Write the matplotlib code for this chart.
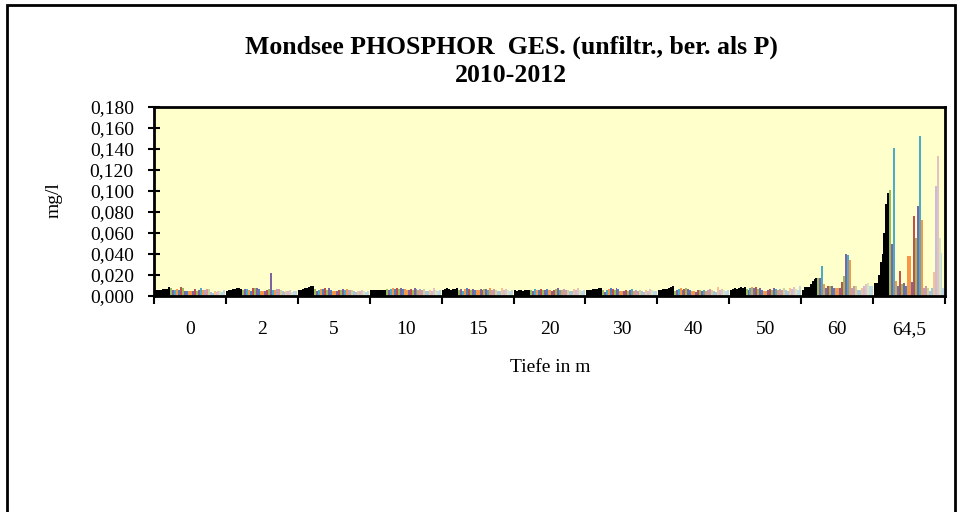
import matplotlib
matplotlib.use("Agg")
import matplotlib.pyplot as plt
from matplotlib.patches import Rectangle
import numpy as np

plt.rcParams["font.family"] = ["Liberation Serif", "DejaVu Serif"]

depths = ["0", "2", "5", "10", "15", "20", "30", "40", "50", "60", "64,5"]

# series colours (36 sampling dates): first ones black, then Excel-like palette
BLACK = "#000000"
GREEN, PURPLE, TEAL, ORANGE, BLUE, RED = "#9BBB59", "#8064A2", "#4BACC6", "#F79646", "#4F81BD", "#C0504D"
series_colors = [BLACK] * 8 + [
    GREEN, PURPLE, TEAL, ORANGE, BLUE, RED,
    GREEN, PURPLE, BLUE, ORANGE, ORANGE, PURPLE,
    RED, GREEN, PURPLE, TEAL, ORANGE,
    "#B3A2C7", "#D99694", "#C3D69B", "#B9B8D6", "#93CDDD", "#FAC090",
    "#C6BCDB", "#E6C1C0", "#D7E4BD", "#B7DEE8", "#C5D3E2",
]

# total phosphorus, mg/l, one value per sampling date
p_0 = [0.006, 0.006, 0.006, 0.006, 0.007, 0.007, 0.007, 0.009,
       0.008, 0.006, 0.006, 0.007, 0.006, 0.009, 0.008, 0.005, 0.005, 0.005, 0.005, 0.005,
       0.007, 0.005, 0.006, 0.008, 0.006, 0.006, 0.007, 0.007, 0.004, 0.003, 0.005, 0.004,
       0.005, 0.005, 0.004, 0.006]
p_2 = [0.005, 0.006, 0.006, 0.007, 0.007, 0.008, 0.008, 0.007,
       0.006, 0.007, 0.007, 0.006, 0.005, 0.008, 0.008, 0.008, 0.007, 0.005, 0.005, 0.005,
       0.006, 0.007, 0.022, 0.006, 0.006, 0.007, 0.007, 0.006, 0.005, 0.004, 0.005, 0.005,
       0.006, 0.004, 0.005, 0.005]
p_5 = [0.006, 0.006, 0.007, 0.008, 0.008, 0.009, 0.010, 0.010,
       0.007, 0.005, 0.006, 0.007, 0.007, 0.008, 0.006, 0.008, 0.006, 0.005, 0.005, 0.005,
       0.006, 0.006, 0.007, 0.006, 0.007, 0.006, 0.006, 0.006, 0.005, 0.004, 0.005, 0.005,
       0.006, 0.005, 0.004, 0.005]
p_10 = [0.006, 0.006, 0.006, 0.006, 0.006, 0.006, 0.006, 0.006,
        0.007, 0.006, 0.007, 0.008, 0.007, 0.008, 0.007, 0.008, 0.007, 0.007, 0.006, 0.006,
        0.007, 0.006, 0.008, 0.007, 0.006, 0.007, 0.006, 0.007, 0.005, 0.005, 0.006, 0.005,
        0.008, 0.006, 0.005, 0.006]
p_15 = [0.006, 0.007, 0.008, 0.007, 0.006, 0.007, 0.007, 0.008,
        0.006, 0.007, 0.005, 0.007, 0.008, 0.007, 0.006, 0.007, 0.006, 0.006, 0.006, 0.007,
        0.006, 0.007, 0.007, 0.006, 0.008, 0.006, 0.007, 0.006, 0.005, 0.005, 0.008, 0.006,
        0.007, 0.006, 0.005, 0.006]
p_20 = [0.006, 0.005, 0.006, 0.006, 0.005, 0.006, 0.006, 0.006,
        0.006, 0.005, 0.007, 0.006, 0.006, 0.007, 0.006, 0.006, 0.007, 0.006, 0.006, 0.005,
        0.006, 0.007, 0.008, 0.006, 0.006, 0.007, 0.006, 0.006, 0.005, 0.005, 0.007, 0.006,
        0.008, 0.006, 0.005, 0.006]
p_30 = [0.006, 0.006, 0.006, 0.007, 0.007, 0.007, 0.008, 0.008,
        0.006, 0.004, 0.006, 0.007, 0.008, 0.007, 0.006, 0.008, 0.007, 0.005, 0.005, 0.005,
        0.006, 0.005, 0.006, 0.007, 0.005, 0.006, 0.005, 0.006, 0.005, 0.004, 0.006, 0.005,
        0.007, 0.006, 0.005, 0.005]
p_40 = [0.006, 0.006, 0.007, 0.007, 0.007, 0.008, 0.009, 0.010,
        0.005, 0.006, 0.007, 0.008, 0.006, 0.007, 0.008, 0.007, 0.006, 0.005, 0.005, 0.004,
        0.006, 0.006, 0.005, 0.006, 0.005, 0.006, 0.007, 0.006, 0.005, 0.004, 0.009, 0.006,
        0.007, 0.006, 0.005, 0.006]
p_50 = [0.006, 0.007, 0.008, 0.007, 0.008, 0.009, 0.008, 0.009,
        0.007, 0.006, 0.008, 0.009, 0.008, 0.009, 0.007, 0.008, 0.006, 0.005, 0.005, 0.006,
        0.007, 0.006, 0.008, 0.007, 0.006, 0.007, 0.006, 0.008, 0.006, 0.005, 0.008, 0.007,
        0.009, 0.007, 0.006, 0.010]
p_60 = [0.006, 0.009, 0.009, 0.009, 0.011, 0.014, 0.016, 0.017,
        0.017, 0.017, 0.029, 0.011, 0.008, 0.010, 0.010, 0.010, 0.008, 0.008, 0.008, 0.008,
        0.013, 0.019, 0.040, 0.039, 0.034, 0.008, 0.010, 0.010, 0.006, 0.006, 0.008, 0.010,
        0.011, 0.012, 0.010, 0.010]
p_64_5 = [0.012, 0.012, 0.020, 0.032, 0.040, 0.060, 0.088, 0.098,
          0.101, 0.050, 0.141, 0.014, 0.010, 0.024, 0.011, 0.012, 0.010, 0.038, 0.038, 0.013,
          0.076, 0.055, 0.086, 0.152, 0.072, 0.008, 0.010, 0.008, 0.005, 0.008, 0.023, 0.105,
          0.133, 0.055, 0.041, 0.008]

values = np.array([p_0, p_2, p_5, p_10, p_15, p_20, p_30, p_40, p_50, p_60, p_64_5])

W, H = 961, 512
fig = plt.figure(figsize=(W / 100, H / 100), dpi=100)

# outer chart frame (bottom edge is cut off in the original)
fig.patches.append(Rectangle((7 / W, -0.05), (955 - 7) / W, 1.05 - 5 / H,
                             transform=fig.transFigure, fill=False,
                             edgecolor="black", linewidth=2))

ax = fig.add_axes([154 / W, 1 - 296 / H, (945 - 154) / W, (296 - 107) / H])
ax.set_facecolor("#FFFFCC")

n_groups, n_series = values.shape
x = np.arange(n_groups)
w = 0.985 / n_series
for j in range(n_series):
    ax.bar(x + (j - (n_series - 1) / 2) * w, values[:, j], width=w,
           color=series_colors[j], linewidth=0)

ax.set_xlim(-0.5, n_groups - 0.5)
ax.set_ylim(0, 0.18)
yt = np.arange(0, 0.1801, 0.02)
ax.set_yticks(yt)
ax.set_yticklabels([f"{v:.3f}".replace(".", ",") for v in yt], fontsize=14)
ax.tick_params(axis="y", direction="inout", length=9, width=1.5, pad=10)

ax.set_xticks(np.arange(-0.5, n_groups, 1))
ax.set_xticklabels([])
ax.tick_params(axis="x", which="major", direction="out", length=6, width=1.5)
ax.set_xticks(x, minor=True)
ax.set_xticklabels(depths, minor=True, fontsize=14)
ax.tick_params(axis="x", which="minor", length=0, pad=18)

for s in ax.spines.values():
    s.set_linewidth(2)

fig.text(511 / W, 1 - 47 / H, "Mondsee PHOSPHOR  GES. (unfiltr., ber. als P)",
         ha="center", va="center", fontsize=18.5, fontweight="bold")
fig.text(511 / W, 1 - 76 / H, "2010-2012",
         ha="center", va="center", fontsize=18.5, fontweight="bold")
fig.text(550 / W, 1 - 368 / H, "Tiefe in m", ha="center", va="center", fontsize=14)
fig.text(54 / W, 1 - 200 / H, "mg/l", ha="center", va="center", rotation=90, fontsize=14)

fig.savefig("out.png", dpi=100)
